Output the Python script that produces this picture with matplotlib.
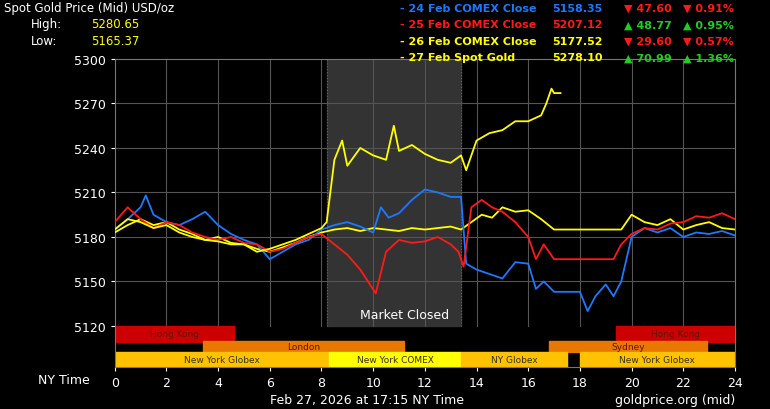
import numpy as np
import matplotlib.pyplot as plt
from matplotlib.patches import Rectangle

# hours (NY time) and prices
t_blue = [0, 0.5, 1.0, 1.2, 1.5, 2, 2.5, 3, 3.5, 4, 4.5, 5, 5.5, 6, 6.5, 7, 7.5, 8, 8.5, 9, 9.5, 10, 10.3, 10.6, 11,
          11.5, 12, 12.5, 13, 13.4, 13.6, 14, 14.5, 15, 15.5, 16, 16.3, 16.6, 17, 17.5, 18, 18.3, 18.6, 19, 19.3, 19.6,
          20, 20.5, 21, 21.5, 22, 22.5, 23, 23.5, 24]
v_blue = [5185, 5192, 5200, 5208, 5195, 5190, 5188, 5192, 5197, 5188, 5182, 5178, 5175, 5165, 5170, 5175, 5178, 5185,
          5188, 5190, 5187, 5183, 5200, 5193, 5196, 5205, 5212, 5210, 5207, 5207, 5162, 5158, 5155, 5152, 5163, 5162,
          5145, 5150, 5143, 5143, 5143, 5130, 5140, 5148, 5140, 5150, 5180, 5186, 5183, 5186, 5180, 5183, 5182,
          5184, 5181]

t_red = [0, 0.5, 1.0, 1.5, 2, 2.5, 3, 3.5, 4, 4.5, 5, 5.5, 6, 6.5, 7, 7.5, 8, 8.5, 9, 9.5, 9.8, 10.1, 10.5, 11, 11.5,
         12, 12.5, 13, 13.3, 13.5, 13.8, 14.2, 14.6, 15, 15.5, 16, 16.3, 16.6, 17, 17.5, 18, 18.5, 19, 19.3, 19.6, 20,
         20.5, 21, 21.5, 22, 22.5, 23, 23.5, 24]
v_red = [5190, 5200, 5192, 5186, 5190, 5188, 5183, 5180, 5178, 5180, 5176, 5175, 5170, 5172, 5176, 5180, 5182, 5175,
         5168, 5158, 5150, 5142, 5170, 5178, 5176, 5177, 5180, 5175, 5170, 5160, 5200, 5205, 5200, 5197, 5190, 5180,
         5165, 5175, 5165, 5165, 5165, 5165, 5165, 5165, 5175, 5182, 5186, 5185, 5189, 5190, 5194, 5193, 5196, 5192]

t_y26 = [0, 0.5, 1, 1.5, 2, 2.5, 3, 3.5, 4, 4.5, 5, 5.5, 6, 6.5, 7, 7.5, 8, 8.5, 9, 9.5, 10, 10.5, 11, 11.5, 12, 12.5,
         13, 13.4, 13.8, 14.2, 14.6, 15, 15.5, 16, 16.5, 17, 17.5, 18, 18.5, 19, 19.3, 19.6, 20, 20.5, 21, 21.5, 22,
         22.5, 23, 23.5, 24]
v_y26 = [5183, 5188, 5192, 5188, 5190, 5185, 5182, 5178, 5180, 5176, 5175, 5172, 5170, 5173, 5176, 5180, 5183, 5185,
         5186, 5184, 5186, 5185, 5184, 5186, 5185, 5186, 5187, 5185, 5190, 5195, 5193, 5200, 5197, 5198, 5192, 5185,
         5185, 5185, 5185, 5185, 5185, 5185, 5195, 5190, 5188, 5192, 5185, 5188, 5190, 5186, 5185]

t_y27 = [0, 0.5, 1, 1.5, 2, 2.5, 3, 3.5, 4, 4.5, 5, 5.5, 6, 6.5, 7, 7.5, 8, 8.2, 8.5, 8.8, 9, 9.5, 10, 10.5, 10.8, 11,
         11.5, 12, 12.5, 13, 13.4, 13.6, 14, 14.5, 15, 15.5, 16, 16.5, 16.7, 16.9, 17.0, 17.25]
v_y27 = [5185, 5192, 5190, 5186, 5188, 5183, 5180, 5178, 5177, 5175, 5175, 5170, 5172, 5175, 5178, 5182, 5186, 5190,
         5232, 5245, 5228, 5240, 5235, 5232, 5255, 5238, 5242, 5236, 5232, 5230, 5235, 5225, 5245, 5250, 5252, 5258,
         5258, 5262, 5270, 5280, 5277, 5277]

sessions = [  # label, start, end, row, colour
    ("Hong Kong", 0, 4.6, 0, "#cc0000"), ("Hong Kong", 19.4, 24, 0, "#cc0000"),
    ("London", 3.4, 11.2, 1, "#e87800"), ("Sydney", 16.8, 22.9, 1, "#e87800"),
    ("New York Globex", 0, 8.3, 2, "#ffc200"), ("New York COMEX", 8.3, 13.4, 2, "#ffff00"),
    ("NY Globex", 13.4, 17.5, 2, "#ffc200"), ("New York Globex", 18, 24, 2, "#ffc200"),
]
rows = [(5109.2, 5120), (5102.4, 5109.6), (5092.3, 5102.4)]

fig = plt.figure(figsize=(7.7, 4.1), dpi=100, facecolor="black")
ax = fig.add_axes([0.149, 0.1024, 0.8055, 0.7513], facecolor="black")
ax.set_xlim(0, 24)
ax.set_ylim(5092.3, 5300)

ax.add_patch(Rectangle((8.2, 5120), 5.2, 180, color="#333333", zorder=0))
for x in range(2, 24, 2):
    ax.plot([x, x], [5120, 5300], color="#555555", lw=0.8, zorder=1)
for y in range(5150, 5300, 30):
    ax.axhline(y, color="#555555", lw=0.8, zorder=1)
ax.plot([8.2, 8.2], [5120, 5300], color="#666666", lw=0.8, ls=":", zorder=1)
ax.plot([13.4, 13.4], [5120, 5300], color="#666666", lw=0.8, ls=":", zorder=1)

ax.plot(t_y26, v_y26, color="#ffff00", lw=1.3, zorder=3)
ax.plot(t_blue, v_blue, color="#1e78ff", lw=1.3, zorder=3)
ax.plot(t_red, v_red, color="#ff1a1a", lw=1.3, zorder=3)
ax.plot(t_y27, v_y27, color="#ffff00", lw=1.3, zorder=4)

ax.text(11.2, 5123, "Market Closed", color="white", ha="center", va="bottom", fontsize=9)

for label, s, e, r, c in sessions:
    lo, hi = rows[r]
    ax.add_patch(Rectangle((s, lo), e - s, hi - lo, color=c, zorder=2))
    ax.text((s + e) / 2, (lo + hi) / 2, label, ha="center", va="center", fontsize=6.5,
            color="#661100" if r < 2 else "#333300", zorder=3)

ax.set_xticks(range(0, 25, 2))
ax.set_yticks(range(5120, 5301, 30))
ax.tick_params(colors="white", labelsize=9, length=3)
for sp in ax.spines.values():
    sp.set_color("#777777")

fig.text(0.05, 0.063, "NY Time", color="white", fontsize=9)
fig.text(0.35, 0.015, "Feb 27, 2026 at 17:15 NY Time", color="white", fontsize=9)
fig.text(0.955, 0.015, "goldprice.org (mid)", color="white", fontsize=9, ha="right")

fig.text(0.005, 0.995, "Spot Gold Price (Mid) USD/oz", color="white", fontsize=8.5, va="top")
fig.text(0.04, 0.955, "High:", color="white", fontsize=8.5, va="top")
fig.text(0.118, 0.955, "5280.65", color="#ffff00", fontsize=8.5, va="top")
fig.text(0.04, 0.915, "Low:", color="white", fontsize=8.5, va="top")
fig.text(0.118, 0.915, "5165.37", color="#ffff00", fontsize=8.5, va="top")

legend = [
    ("- 24 Feb COMEX Close", "5158.35", "\u25bc 47.60", "\u25bc 0.91%", "#1e78ff", "#ff1a1a"),
    ("- 25 Feb COMEX Close", "5207.12", "\u25b2 48.77", "\u25b2 0.95%", "#ff1a1a", "#22cc22"),
    ("- 26 Feb COMEX Close", "5177.52", "\u25bc 29.60", "\u25bc 0.57%", "#ffff00", "#ff1a1a"),
    ("- 27 Feb Spot Gold", "5278.10", "\u25b2 70.99", "\u25b2 1.36%", "#ffff00", "#22cc22"),
]
for i, (name, val, chg, pct, c, cc) in enumerate(legend):
    y = 0.99 - i * 0.04
    kw = dict(fontsize=8, fontweight="bold", va="top")
    fig.text(0.52, y, name, color=c, **kw)
    fig.text(0.717, y, val, color=c, **kw)
    fig.text(0.81, y, chg, color=cc, **kw)
    fig.text(0.887, y, pct, color=cc, **kw)

fig.savefig("out.png", dpi=100, facecolor="black")
